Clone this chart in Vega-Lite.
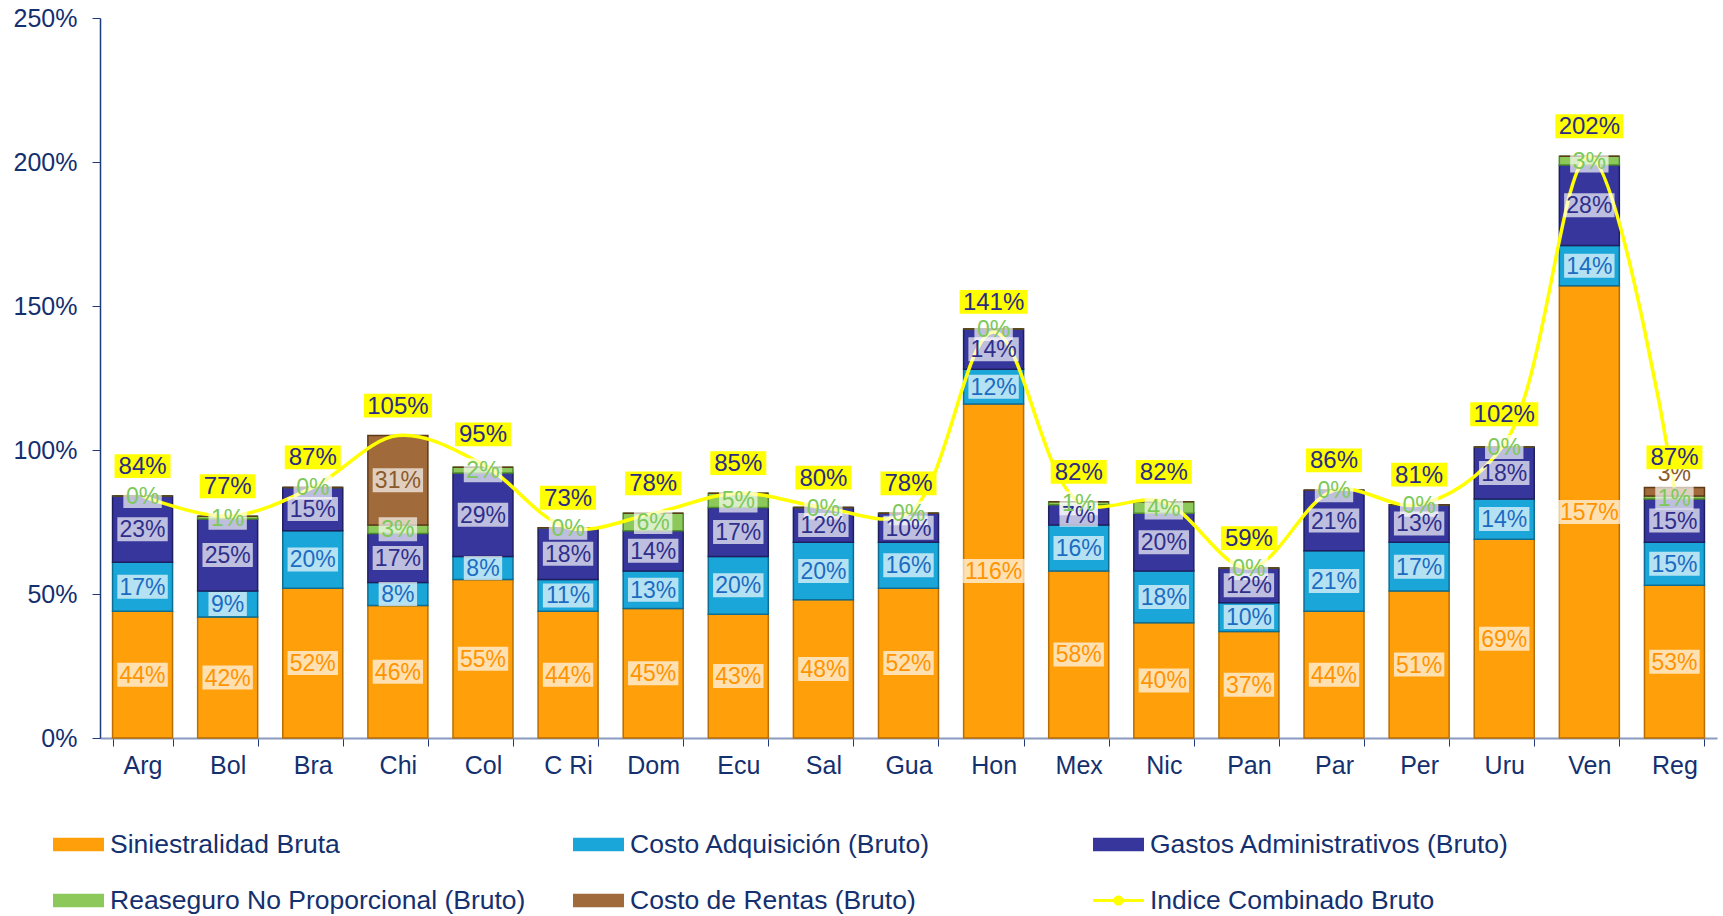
{
  "$schema": "https://vega.github.io/schema/vega-lite/v6.json",
  "width": 1617,
  "height": 720,
  "autosize": {"type": "none"},
  "padding": {"left": 100, "top": 18, "right": 6, "bottom": 178},
  "background": "white",
  "datasets": {
    "paises": [
      {"pais": "Arg", "sin": 44, "adq": 17, "adm": 23, "rea": 0, "ren": 0, "ind": 84},
      {"pais": "Bol", "sin": 42, "adq": 9, "adm": 25, "rea": 1, "ren": 0, "ind": 77},
      {"pais": "Bra", "sin": 52, "adq": 20, "adm": 15, "rea": 0, "ren": 0, "ind": 87},
      {"pais": "Chi", "sin": 46, "adq": 8, "adm": 17, "rea": 3, "ren": 31, "ind": 105},
      {"pais": "Col", "sin": 55, "adq": 8, "adm": 29, "rea": 2, "ren": 0, "ind": 95},
      {"pais": "C Ri", "sin": 44, "adq": 11, "adm": 18, "rea": 0, "ren": 0, "ind": 73},
      {"pais": "Dom", "sin": 45, "adq": 13, "adm": 14, "rea": 6, "ren": 0, "ind": 78},
      {"pais": "Ecu", "sin": 43, "adq": 20, "adm": 17, "rea": 5, "ren": 0, "ind": 85},
      {"pais": "Sal", "sin": 48, "adq": 20, "adm": 12, "rea": 0, "ren": 0, "ind": 80},
      {"pais": "Gua", "sin": 52, "adq": 16, "adm": 10, "rea": 0, "ren": 0, "ind": 78},
      {"pais": "Hon", "sin": 116, "adq": 12, "adm": 14, "rea": 0, "ren": 0, "ind": 141},
      {"pais": "Mex", "sin": 58, "adq": 16, "adm": 7, "rea": 1, "ren": 0, "ind": 82},
      {"pais": "Nic", "sin": 40, "adq": 18, "adm": 20, "rea": 4, "ren": 0, "ind": 82},
      {"pais": "Pan", "sin": 37, "adq": 10, "adm": 12, "rea": 0, "ren": 0, "ind": 59},
      {"pais": "Par", "sin": 44, "adq": 21, "adm": 21, "rea": 0, "ren": 0, "ind": 86},
      {"pais": "Per", "sin": 51, "adq": 17, "adm": 13, "rea": 0, "ren": 0, "ind": 81},
      {"pais": "Uru", "sin": 69, "adq": 14, "adm": 18, "rea": 0, "ren": 0, "ind": 102},
      {"pais": "Ven", "sin": 157, "adq": 14, "adm": 28, "rea": 3, "ren": 0, "ind": 202},
      {"pais": "Reg", "sin": 53, "adq": 15, "adm": 15, "rea": 1, "ren": 3, "ind": 87}
    ]
  },
  "data": {"name": "paises"},
  "encoding": {
    "x": {
      "field": "pais",
      "type": "nominal",
      "title": null,
      "scale": {
        "domain": ["Arg", "Bol", "Bra", "Chi", "Col", "C Ri", "Dom", "Ecu", "Sal", "Gua", "Hon", "Mex", "Nic", "Pan", "Par", "Per", "Uru", "Ven", "Reg"],
        "paddingInner": 0.295,
        "paddingOuter": 0.1475
      },
      "axis": {"tickBand": "extent", "labelAngle": 0, "title": null}
    }
  },
  "layer": [
    {
      "transform": [
        {"fold": ["sin", "adq", "adm", "rea", "ren"], "as": ["serie", "valor"]},
        {"calculate": "indexof(['sin','adq','adm','rea','ren'], datum.serie)", "as": "orden"}
      ],
      "mark": {"type": "bar", "strokeWidth": 1.5},
      "encoding": {
        "y": {
          "field": "valor",
          "type": "quantitative",
          "stack": "zero",
          "title": null,
          "scale": {"domain": [0, 250], "nice": false},
          "axis": {"values": [0, 50, 100, 150, 200, 250], "labelExpr": "datum.value + '%'", "title": null}
        },
        "color": {
          "field": "serie",
          "type": "nominal",
          "scale": {
            "domain": ["sin", "adq", "adm", "rea", "ren", "ind"],
            "range": ["#FF9F0A", "#1AA6D8", "#36369C", "#8CC95A", "#A06A3A", "#FFFF00"]
          },
          "legend": {
            "title": null,
            "orient": "none",
            "legendX": -47,
            "legendY": 801,
            "direction": "horizontal",
            "columns": 3,
            "gridAlign": "all",
            "columnPadding": 47,
            "rowPadding": 17,
            "symbolSize": 2601,
            "symbolStrokeWidth": 0,
            "symbolOpacity": 1,
            "labelFont": "Liberation Sans",
            "labelFontSize": 26.5,
            "labelColor": "#14306E",
            "labelLimit": 800,
            "labelOffset": 6,
            "labelExpr": "datum.label == 'sin' ? 'Siniestralidad Bruta' : datum.label == 'adq' ? 'Costo Adquisición (Bruto)' : datum.label == 'adm' ? 'Gastos Administrativos (Bruto)' : datum.label == 'rea' ? 'Reaseguro No Proporcional (Bruto)' : datum.label == 'ren' ? 'Costo de Rentas (Bruto)' : 'Indice Combinado Bruto'"
          }
        },
        "stroke": {
          "field": "serie",
          "type": "nominal",
          "scale": {"domain": ["sin", "adq", "adm", "rea", "ren"], "range": ["#B86E00", "#0E6E92", "#1F1F60", "#4E8A2E", "#5E3A18"]},
          "legend": null
        },
        "order": {"field": "orden", "type": "quantitative"}
      }
    },
    {
      "mark": {"type": "line", "color": "#FFFF00", "strokeWidth": 3.5, "interpolate": "catmull-rom"},
      "encoding": {
        "y": {"field": "ind", "type": "quantitative", "title": null}
      }
    },
    {
      "transform": [
        {"fold": ["sin", "adq", "adm", "rea", "ren"], "as": ["serie", "valor"]},
        {"calculate": "indexof(['sin','adq','adm','rea','ren'], datum.serie)", "as": "orden"},
        {"stack": "valor", "groupby": ["pais"], "sort": [{"field": "orden", "order": "ascending"}], "as": ["v0", "v1"]},
        {"filter": "datum.serie != 'ren' || datum.valor > 0"},
        {"calculate": "datum.serie == 'ren' && datum.valor < 10 ? datum.v1 + 5 : (datum.v0 + datum.v1) / 2", "as": "mid"}
      ],
      "mark": {"type": "point", "filled": true, "color": "white", "opacity": 0.68, "size": 576, "strokeWidth": 0},
      "encoding": {
        "y": {"field": "mid", "type": "quantitative", "title": null},
        "shape": {
          "condition": [
            {"test": "datum.valor < 10", "value": "M-1.6,-1H1.6V1H-1.6Z"},
            {"test": "datum.valor >= 100", "value": "M-2.6,-1H2.6V1H-2.6Z"}
          ],
          "value": "M-2.1,-1H2.1V1H-2.1Z"
        }
      }
    },
    {
      "transform": [
        {"fold": ["sin", "adq", "adm", "rea", "ren"], "as": ["serie", "valor"]},
        {"calculate": "indexof(['sin','adq','adm','rea','ren'], datum.serie)", "as": "orden"},
        {"stack": "valor", "groupby": ["pais"], "sort": [{"field": "orden", "order": "ascending"}], "as": ["v0", "v1"]},
        {"filter": "datum.serie != 'ren' || datum.valor > 0"},
        {"calculate": "datum.serie == 'ren' && datum.valor < 10 ? datum.v1 + 5 : (datum.v0 + datum.v1) / 2", "as": "mid"},
        {"calculate": "datum.valor + '%'", "as": "lbl"}
      ],
      "mark": {"type": "text", "font": "Liberation Sans", "fontSize": 23, "baseline": "middle", "dy": 1},
      "encoding": {
        "y": {"field": "mid", "type": "quantitative", "title": null},
        "text": {"field": "lbl", "type": "nominal"},
        "fill": {
          "field": "serie",
          "type": "nominal",
          "scale": {"domain": ["sin", "adq", "adm", "rea", "ren"], "range": ["#FF9400", "#1B6CC2", "#2E2E8C", "#7CC95A", "#8A5A2C"]},
          "legend": null
        }
      }
    },
    {
      "mark": {"type": "point", "filled": true, "color": "#FFFF00", "opacity": 1, "size": 784, "yOffset": -30, "strokeWidth": 0},
      "encoding": {
        "y": {"field": "ind", "type": "quantitative", "title": null},
        "shape": {
          "condition": {"test": "datum.ind >= 100", "value": "M-2.43,-0.85H2.43V0.85H-2.43Z"},
          "value": "M-2,-0.85H2V0.85H-2Z"
        }
      }
    },
    {
      "transform": [{"calculate": "datum.ind + '%'", "as": "lblInd"}],
      "mark": {"type": "text", "font": "Liberation Sans", "fontSize": 24, "baseline": "middle", "dy": -29, "color": "#2B2B85"},
      "encoding": {
        "y": {"field": "ind", "type": "quantitative", "title": null},
        "text": {"field": "lblInd", "type": "nominal"}
      }
    },
    {
      "data": {"values": [{"serie": "sin"}, {"serie": "adq"}, {"serie": "adm"}, {"serie": "rea"}, {"serie": "ren"}, {"serie": "ind"}]},
      "mark": {"type": "point", "filled": true, "opacity": 0},
      "encoding": {
        "x": {"value": 0},
        "y": {"value": 0},
        "color": {"field": "serie", "type": "nominal"},
        "shape": {
          "field": "serie",
          "type": "nominal",
          "scale": {
            "domain": ["sin", "adq", "adm", "rea", "ren", "ind"],
            "range": ["M-1,-0.26H1V0.26H-1Z", "M-1,-0.26H1V0.26H-1Z", "M-1,-0.26H1V0.26H-1Z", "M-1,-0.26H1V0.26H-1Z", "M-1,-0.26H1V0.26H-1Z", "M-1,-0.06H1V0.06H-1Z M0.2,0 A0.2,0.2 0 1,1 -0.2,0 A0.2,0.2 0 1,1 0.2,0 Z"]
          },
          "legend": {
            "title": null,
            "orient": "none",
            "legendX": -47,
            "legendY": 801,
            "direction": "horizontal",
            "columns": 3,
            "gridAlign": "all",
            "columnPadding": 47,
            "rowPadding": 17,
            "symbolSize": 2601,
            "symbolStrokeWidth": 0,
            "symbolOpacity": 1,
            "labelFont": "Liberation Sans",
            "labelFontSize": 26.5,
            "labelColor": "#14306E",
            "labelLimit": 800,
            "labelOffset": 6,
            "labelExpr": "datum.label == 'sin' ? 'Siniestralidad Bruta' : datum.label == 'adq' ? 'Costo Adquisición (Bruto)' : datum.label == 'adm' ? 'Gastos Administrativos (Bruto)' : datum.label == 'rea' ? 'Reaseguro No Proporcional (Bruto)' : datum.label == 'ren' ? 'Costo de Rentas (Bruto)' : 'Indice Combinado Bruto'"
          }
        }
      }
    }
  ],
  "config": {
    "view": {"stroke": null},
    "axis": {
      "labelFont": "Liberation Sans",
      "labelFontSize": 25,
      "labelColor": "#14306E",
      "grid": false,
      "domainColor": "#1F3A7A",
      "tickColor": "#1F3A7A"
    },
    "axisX": {"domainColor": "#8A9AC0", "domainWidth": 2, "tickSize": 8, "labelPadding": 7},
    "axisY": {"domainWidth": 1.5, "tickSize": 8, "labelPadding": 15}
  }
}
